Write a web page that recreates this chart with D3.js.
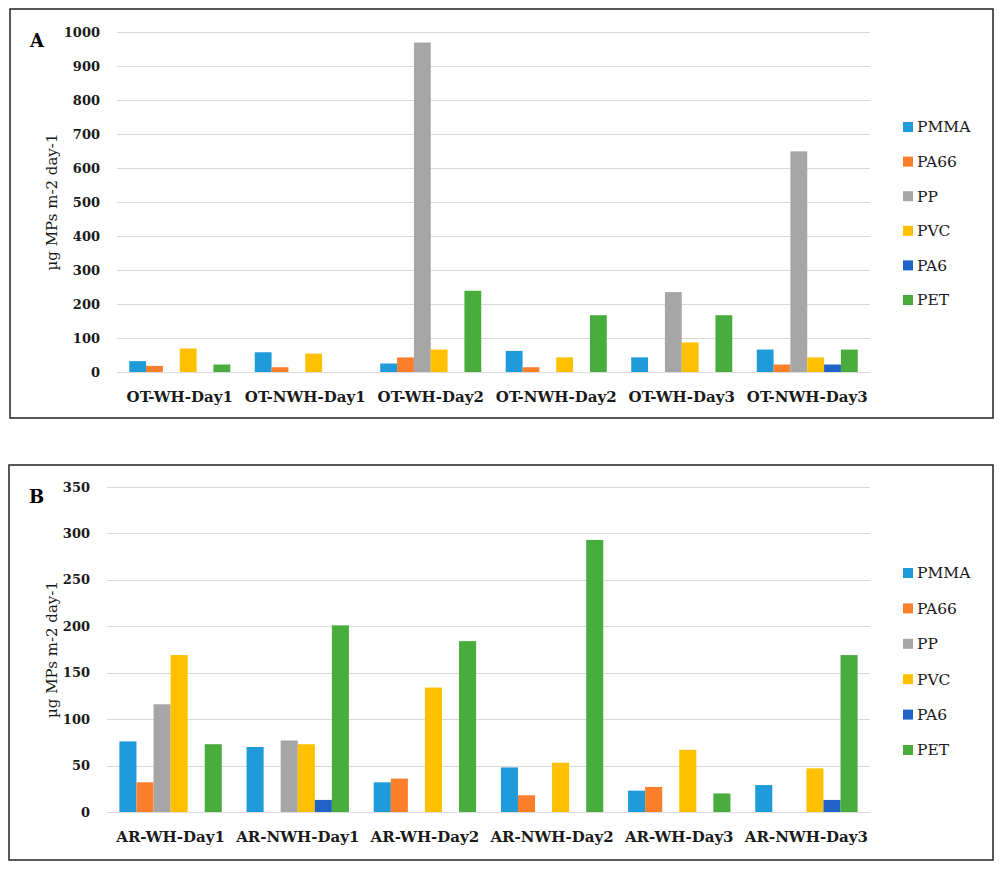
<!DOCTYPE html>
<html lang="en">
<head>
<meta charset="utf-8">
<title>Microplastics deposition</title>
<script src="https://cdn.jsdelivr.net/npm/d3@7"></script>
<style>
    body {
        margin: 0;
        background-color: white;
    }
    svg {
        background-color: white;
        font-family: "DejaVu Serif", serif;
    }
    .grid line {
        stroke: #d9d9d9;
        shape-rendering: crispEdges;
    }
    .ytick {
        font-size: 13px;
        font-weight: bold;
        fill: #1a1a1a;
    }
    .xlabel {
        font-size: 15px;
        font-weight: bold;
        fill: #1a1a1a;
    }
    .ytitle {
        font-size: 15px;
        fill: #1a1a1a;
    }
    .legend text {
        font-size: 15.5px;
        fill: #1a1a1a;
    }
    .panel-label {
        font-size: 18px;
        font-weight: bold;
    }
</style>
</head>
<body>
<svg id="chart"></svg>
<script>

var width = 1007, height = 869;

var polymers = ["PMMA", "PA66", "PP", "PVC", "PA6", "PET"];
var colors = ["#1f9bd9", "#fd7f2c", "#a6a6a6", "#ffc000", "#1f63c6", "#48ad3c"];

// panel A - outdoor
var sitesA = ["OT-WH-Day1", "OT-NWH-Day1", "OT-WH-Day2", "OT-NWH-Day2", "OT-WH-Day3", "OT-NWH-Day3"];
var pmmaA = [32, 58, 25, 62, 43, 66];
var pa66A = [18, 14, 43, 14, 0, 22];
var ppA   = [0, 0, 969, 0, 235, 649];
var pvcA  = [69, 54, 66, 43, 87, 43];
var pa6A  = [0, 0, 0, 0, 0, 22];
var petA  = [22, 0, 239, 167, 167, 66];
var ticksA = [0, 100, 200, 300, 400, 500, 600, 700, 800, 900, 1000];

// panel B - indoor air
var sitesB = ["AR-WH-Day1", "AR-NWH-Day1", "AR-WH-Day2", "AR-NWH-Day2", "AR-WH-Day3", "AR-NWH-Day3"];
var pmmaB = [76, 70, 32, 48, 23, 29];
var pa66B = [32, 0, 36, 18, 27, 0];
var ppB   = [116, 77, 0, 0, 0, 0];
var pvcB  = [169, 73, 134, 53, 67, 47];
var pa6B  = [0, 13, 0, 0, 0, 13];
var petB  = [73, 201, 184, 293, 20, 169];
var ticksB = [0, 50, 100, 150, 200, 250, 300, 350];

var svg = d3.select("#chart")
    .attr("width", width)
    .attr("height", height);

var color = d3.scaleOrdinal().domain(polymers).range(colors);

function drawPanel(opt) {
    var g = svg.append("g");

    // frame
    g.append("rect")
        .attr("x", opt.frame[0])
        .attr("y", opt.frame[1])
        .attr("width", opt.frame[2])
        .attr("height", opt.frame[3])
        .attr("fill", "white")
        .attr("stroke", "#222")
        .attr("stroke-width", 1.5);

    var x0 = d3.scaleBand()
        .domain(opt.sites)
        .range([opt.left, opt.right])
        .paddingInner(0.195)
        .paddingOuter(0.0975);

    var x1 = d3.scaleBand()
        .domain(polymers)
        .range([0, x0.bandwidth()]);

    var y = d3.scaleLinear()
        .domain([0, d3.max(opt.ticks)])
        .range([opt.bottom, opt.top]);

    // gridlines
    g.append("g")
        .attr("class", "grid")
        .selectAll("line")
        .data(opt.ticks)
        .enter().append("line")
        .attr("x1", opt.left)
        .attr("x2", opt.right)
        .attr("y1", function(d) { return Math.round(y(d)) + 0.5; })
        .attr("y2", function(d) { return Math.round(y(d)) + 0.5; });

    // y tick labels
    g.selectAll(".ytick")
        .data(opt.ticks)
        .enter().append("text")
        .attr("class", "ytick")
        .attr("x", opt.left - 17)
        .attr("y", function(d) { return y(d); })
        .attr("dy", "0.35em")
        .attr("text-anchor", "end")
        .text(function(d) { return d; });

    // bars
    var rows = opt.sites.map(function(s, i) {
        return { site: s, values: polymers.map(function(p, j) {
            return { key: p, value: opt.series[j][i] };
        }) };
    });

    g.selectAll(".site")
        .data(rows)
        .enter().append("g")
        .attr("class", "site")
        .attr("transform", function(d) { return "translate(" + x0(d.site) + ",0)"; })
        .selectAll("rect")
        .data(function(d) { return d.values.filter(function(v) { return v.value > 0; }); })
        .enter().append("rect")
        .attr("x", function(d) { return x1(d.key); })
        .attr("y", function(d) { return y(d.value); })
        .attr("width", x1.bandwidth())
        .attr("height", function(d) { return y(0) - y(d.value); })
        .attr("fill", function(d) { return color(d.key); });

    // category labels
    g.selectAll(".xlabel")
        .data(opt.sites)
        .enter().append("text")
        .attr("class", "xlabel")
        .attr("x", function(d) { return x0(d) + x0.bandwidth() / 2; })
        .attr("y", opt.bottom + 30)
        .attr("text-anchor", "middle")
        .text(function(d) { return d; });

    // y axis title
    g.append("text")
        .attr("class", "ytitle")
        .attr("transform", "translate(" + opt.titleX + "," + (opt.top + opt.bottom) / 2 + ") rotate(-90)")
        .attr("dy", "0.35em")
        .attr("text-anchor", "middle")
        .text("\u00b5g MPs m-2 day-1");

    // panel letter
    g.append("text")
        .attr("class", "panel-label")
        .attr("x", opt.frame[0] + 20)
        .attr("y", opt.labelY)
        .text(opt.label);

    // legend
    var legend = g.selectAll(".legend")
        .data(polymers)
        .enter().append("g")
        .attr("class", "legend")
        .attr("transform", function(d, i) {
            return "translate(903," + (opt.legendY + i * opt.legendStep) + ")";
        });

    legend.append("rect")
        .attr("x", 0)
        .attr("y", -5)
        .attr("width", 10)
        .attr("height", 10)
        .attr("fill", color);

    legend.append("text")
        .attr("x", 14)
        .attr("y", 0)
        .attr("dy", "0.35em")
        .text(function(d) { return d; });
}

drawPanel({
    label: "A",
    sites: sitesA,
    series: [pmmaA, pa66A, ppA, pvcA, pa6A, petA],
    ticks: ticksA,
    frame: [10, 9, 983, 409],
    left: 117, right: 870, top: 32, bottom: 372,
    titleX: 52, labelY: 47,
    legendY: 127, legendStep: 34.6
});

drawPanel({
    label: "B",
    sites: sitesB,
    series: [pmmaB, pa66B, ppB, pvcB, pa6B, petB],
    ticks: ticksB,
    frame: [9, 465, 984, 395],
    left: 107, right: 870, top: 487, bottom: 812,
    titleX: 52, labelY: 503,
    legendY: 573, legendStep: 35.4
});

</script>
</body>
</html>
